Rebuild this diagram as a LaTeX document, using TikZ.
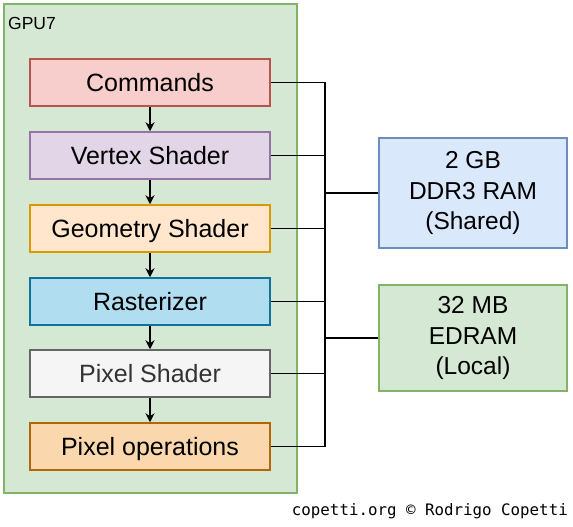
\documentclass[tikz,border=0pt]{standalone}
\usepackage{fontspec}
\setmainfont{Liberation Sans}
\newfontfamily\footfont{DejaVu Sans Mono}
\usetikzlibrary{arrows.meta}
\definecolor{gpufill}{HTML}{D5E8D4}
\definecolor{gpuline}{HTML}{82B366}
\definecolor{cmdfill}{HTML}{F8CECC}
\definecolor{cmdline}{HTML}{B85450}
\definecolor{vtxfill}{HTML}{E1D5E7}
\definecolor{vtxline}{HTML}{9673A6}
\definecolor{geofill}{HTML}{FFE6CC}
\definecolor{geoline}{HTML}{D79B00}
\definecolor{rasfill}{HTML}{B1DDF0}
\definecolor{rasline}{HTML}{10739E}
\definecolor{pixfill}{HTML}{F5F5F5}
\definecolor{pixline}{HTML}{666666}
\definecolor{pixtext}{HTML}{333333}
\definecolor{opsfill}{HTML}{FAD7AC}
\definecolor{opsline}{HTML}{B46504}
\definecolor{ramfill}{HTML}{DAE8FC}
\definecolor{ramline}{HTML}{6C8EBF}
\tikzset{
  stage/.style={draw, line width=1.5pt, minimum width=240pt, minimum height=47pt,
    inner sep=0pt, text height=19pt, text depth=1pt,
    font=\fontsize{25}{29}\selectfont},
  memory/.style={draw, line width=1.5pt, minimum width=188pt, inner sep=0pt,
    align=center, font=\fontsize{24.5}{30.5}\selectfont},
  wire/.style={line width=1.5pt},
  flow/.style={line width=1.5pt, -{Stealth[length=9pt,width=9pt]}}
}
\begin{document}
\begin{tikzpicture}[x=1pt,y=-1pt]
\useasboundingbox (0,0) rectangle (573,527);
% GPU container
\draw[fill=gpufill, draw=gpuline, line width=1.5pt] (4,4) rectangle (297,493);
\node[anchor=north west, font=\fontsize{17.5}{20}\selectfont, inner sep=0pt] (gpu) at (8,17) {GPU7};

% pipeline stages
\node[stage, fill=cmdfill, draw=cmdline] (cmd) at (150,82.5) {Commands};
\node[stage, fill=vtxfill, draw=vtxline] (vtx) at (150,155.5) {Vertex Shader};
\node[stage, fill=geofill, draw=geoline] (geo) at (150,228.5) {Geometry Shader};
\node[stage, fill=rasfill, draw=rasline] (ras) at (150,301.5) {Rasterizer};
\node[stage, fill=pixfill, draw=pixline, text=pixtext] (pix) at (150,373.5) {Pixel Shader};
\node[stage, fill=opsfill, draw=opsline] (ops) at (150,446.5) {Pixel operations};

\draw[flow] (cmd) -- (vtx);
\draw[flow] (vtx) -- (geo);
\draw[flow] (geo) -- (ras);
\draw[flow] (ras) -- (pix);
\draw[flow] (pix) -- (ops);

% memories
\node[memory, fill=ramfill, draw=ramline, minimum height=110pt] (ram) at (473,193) {2 GB\\DDR3 RAM\\(Shared)};
\node[memory, fill=gpufill, draw=gpuline, minimum height=106pt] (edram) at (473,338) {32 MB\\EDRAM\\(Local)};

% bus
\coordinate (bustop) at (325,82.5);
\coordinate (busbot) at (325,446.5);
\draw[wire] (bustop) -- (busbot);
\foreach \s in {cmd,vtx,geo,ras,pix,ops}
  \draw[wire] (\s.east) -- (\s.east -| bustop);
\draw[wire] (ram.west) -- (ram.west -| bustop);
\draw[wire] (edram.west) -- (edram.west -| bustop);

\node[anchor=south east, inner sep=0pt, font=\footfont\fontsize{15.8}{18}\selectfont] (credit) at (568,519) {copetti.org © Rodrigo Copetti};
\end{tikzpicture}
\end{document}
